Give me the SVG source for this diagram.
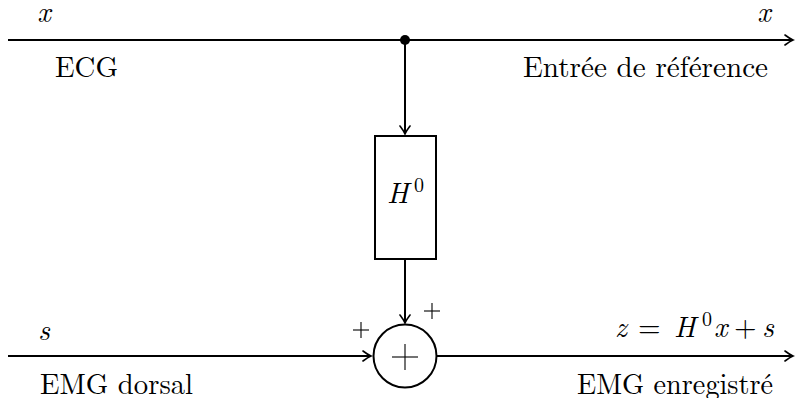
<svg xmlns="http://www.w3.org/2000/svg" width="795" height="398" viewBox="0 0 795 398">
<style>
.ln{stroke:#000;stroke-width:2;fill:none}
.pl{stroke:#000;stroke-width:1.1;fill:none}
.t{font-family:"Latin Modern Roman","Liberation Serif","DejaVu Serif",serif;font-size:29px;fill:#000}
.m{font-style:italic}
.sm{font-size:20px}
</style>
<defs>
<marker id="ar" viewBox="-10 -6 12 12" markerWidth="12" markerHeight="12" refX="0" refY="0" orient="auto" markerUnits="userSpaceOnUse">
<path d="M-8,-5 Q-3,-1.2 0,0 Q-3,1.2 -8,5" fill="none" stroke="#000" stroke-width="1.6" stroke-linecap="round"/>
</marker>
</defs>
<rect width="795" height="398" fill="#fff"/>
<g id="connectors">
<line class="ln" x1="8" y1="40" x2="793" y2="40" marker-end="url(#ar)"/>
<line class="ln" x1="405" y1="40" x2="405" y2="134" marker-end="url(#ar)"/>
<line class="ln" x1="405" y1="259" x2="405" y2="323" marker-end="url(#ar)"/>
<line class="ln" x1="8" y1="356" x2="371" y2="356" marker-end="url(#ar)"/>
<line class="ln" x1="437" y1="356" x2="793" y2="356" marker-end="url(#ar)"/>
</g>
<g id="junction"><circle cx="405" cy="40" r="5" fill="#000"/></g>
<g id="H0">
<rect class="ln" x="375" y="136" width="61" height="123"/>
<text class="t m" x="387" y="203">H</text>
<text class="t sm" x="414" y="192">0</text>
</g>
<g id="sum">
<circle class="ln" cx="405" cy="356" r="31.5"/>
<line class="pl" x1="392" y1="357" x2="418" y2="357" stroke-width="2"/>
<line class="pl" x1="405" y1="344" x2="405" y2="370" stroke-width="2"/>
<line class="pl" x1="353" y1="330" x2="369" y2="330"/>
<line class="pl" x1="361" y1="322" x2="361" y2="338"/>
<line class="pl" x1="424" y1="311" x2="440" y2="311"/>
<line class="pl" x1="432" y1="303" x2="432" y2="319"/>
</g>
<g id="labels">
<text class="t m" x="44" y="22" text-anchor="middle">x</text>
<text class="t m" x="764" y="22" text-anchor="middle">x</text>
<text class="t" x="55" y="77" textLength="63" lengthAdjust="spacingAndGlyphs">ECG</text>
<text class="t" x="523" y="77" textLength="245" lengthAdjust="spacingAndGlyphs">Entrée de référence</text>
<text class="t m" x="44" y="340" text-anchor="middle">s</text>
<text class="t m" x="615" y="337">z</text>
<text class="t" x="638" y="337">=</text>
<text class="t m" x="674" y="337">H</text>
<text class="t sm" x="702" y="326">0</text>
<text class="t m" x="714" y="337">x</text>
<text class="t" x="734" y="337">+</text>
<text class="t m" x="762" y="337">s</text>
<text class="t" x="40" y="394" textLength="153" lengthAdjust="spacingAndGlyphs">EMG dorsal</text>
<text class="t" x="577" y="394" textLength="196" lengthAdjust="spacingAndGlyphs">EMG enregistré</text>
</g>
</svg>
